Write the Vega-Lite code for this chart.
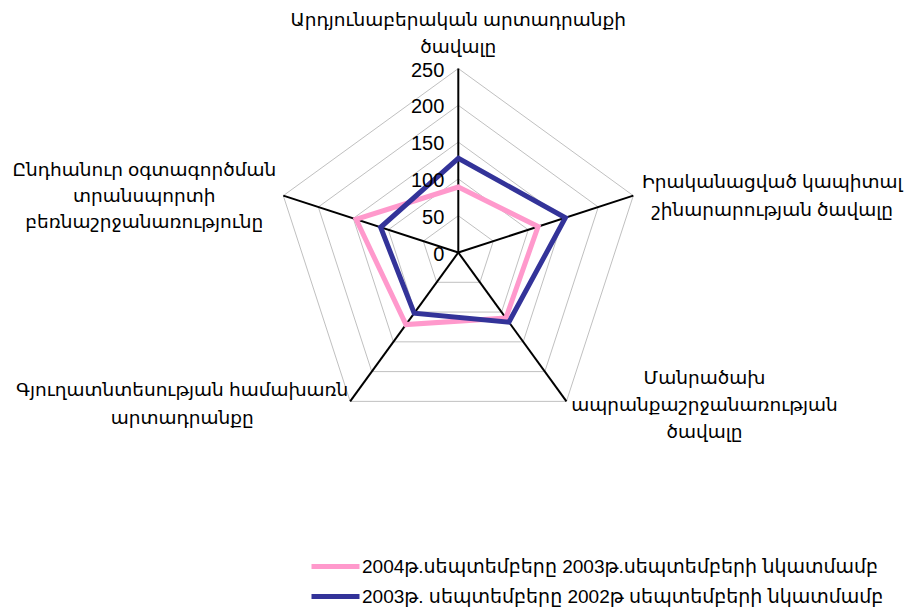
{
  "$schema": "https://vega.github.io/schema/vega-lite/v6.json",
  "width": 906,
  "height": 613,
  "autosize": {"type": "none"},
  "padding": 0,
  "background": "white",
  "config": {
    "view": {"stroke": null},
    "font": "Liberation Sans, DejaVu Sans",
    "text": {"font": "Liberation Sans, DejaVu Sans"}
  },
  "datasets": {
    "series": [
      {"idx": 0, "series": "2004թ.սեպտեմբերը 2003թ.սեպտեմբերի նկատմամբ", "value": 89},
      {"idx": 1, "series": "2004թ.սեպտեմբերը 2003թ.սեպտեմբերի նկատմամբ", "value": 114},
      {"idx": 2, "series": "2004թ.սեպտեմբերը 2003թ.սեպտեմբերի նկատմամբ", "value": 110},
      {"idx": 3, "series": "2004թ.սեպտեմբերը 2003թ.սեպտեմբերի նկատմամբ", "value": 121},
      {"idx": 4, "series": "2004թ.սեպտեմբերը 2003թ.սեպտեմբերի նկատմամբ", "value": 146},
      {"idx": 0, "series": "2003թ. սեպտեմբերը 2002թ սեպտեմբերի նկատմամբ", "value": 128},
      {"idx": 1, "series": "2003թ. սեպտեմբերը 2002թ սեպտեմբերի նկատմամբ", "value": 153},
      {"idx": 2, "series": "2003թ. սեպտեմբերը 2002թ սեպտեմբերի նկատմամբ", "value": 117},
      {"idx": 3, "series": "2003թ. սեպտեմբերը 2002թ սեպտեմբերի նկատմամբ", "value": 102},
      {"idx": 4, "series": "2003թ. սեպտեմբերը 2002թ սեպտեմբերի նկատմամբ", "value": 111}
    ],
    "axes": [
      {"idx": 0, "label": "Արդյունաբերական արտադրանքի\nծավալը"},
      {"idx": 1, "label": "Իրականացված կապիտալ\nշինարարության ծավալը"},
      {"idx": 2, "label": "Մանրածախ\nապրանքաշրջանառության\nծավալը"},
      {"idx": 3, "label": "Գյուղատնտեսության համախառն\nարտադրանքը"},
      {"idx": 4, "label": "Ընդհանուր օգտագործման\nտրանսպորտի\nբեռնաշրջանառությունը"}
    ],
    "grid": [
      {"level": 50, "idx": 0}, {"level": 50, "idx": 1}, {"level": 50, "idx": 2}, {"level": 50, "idx": 3}, {"level": 50, "idx": 4},
      {"level": 100, "idx": 0}, {"level": 100, "idx": 1}, {"level": 100, "idx": 2}, {"level": 100, "idx": 3}, {"level": 100, "idx": 4},
      {"level": 150, "idx": 0}, {"level": 150, "idx": 1}, {"level": 150, "idx": 2}, {"level": 150, "idx": 3}, {"level": 150, "idx": 4},
      {"level": 200, "idx": 0}, {"level": 200, "idx": 1}, {"level": 200, "idx": 2}, {"level": 200, "idx": 3}, {"level": 200, "idx": 4},
      {"level": 250, "idx": 0}, {"level": 250, "idx": 1}, {"level": 250, "idx": 2}, {"level": 250, "idx": 3}, {"level": 250, "idx": 4}
    ],
    "ticks": [
      {"level": 0}, {"level": 50}, {"level": 100}, {"level": 150}, {"level": 200}, {"level": 250}
    ]
  },
  "layer": [
    {
      "data": {"name": "grid"},
      "transform": [
        {"calculate": "datum.idx * 2 * PI / 5", "as": "theta"},
        {"calculate": "datum.level * sin(datum.theta)", "as": "x"},
        {"calculate": "datum.level * cos(datum.theta)", "as": "y"}
      ],
      "mark": {"type": "line", "interpolate": "linear-closed", "stroke": "#C0C0C0", "strokeWidth": 1},
      "encoding": {
        "x": {"field": "x", "type": "quantitative", "scale": {"domain": [-622.7, 608.3], "nice": false, "zero": false}, "axis": null},
        "y": {"field": "y", "type": "quantitative", "scale": {"domain": [-489.8, 343.1], "nice": false, "zero": false}, "axis": null},
        "detail": {"field": "level", "type": "nominal"},
        "order": {"field": "idx", "type": "quantitative"}
      }
    },
    {
      "data": {"name": "axes"},
      "transform": [
        {"calculate": "datum.idx * 2 * PI / 5", "as": "theta"},
        {"calculate": "250 * sin(datum.theta)", "as": "x"},
        {"calculate": "250 * cos(datum.theta)", "as": "y"}
      ],
      "mark": {"type": "rule", "color": "black", "strokeWidth": 2},
      "encoding": {
        "x": {"field": "x", "type": "quantitative"},
        "y": {"field": "y", "type": "quantitative"},
        "x2": {"datum": 0},
        "y2": {"datum": 0}
      }
    },
    {
      "data": {"name": "series"},
      "transform": [
        {"calculate": "datum.idx * 2 * PI / 5", "as": "theta"},
        {"calculate": "datum.value * sin(datum.theta)", "as": "x"},
        {"calculate": "datum.value * cos(datum.theta)", "as": "y"}
      ],
      "mark": {"type": "line", "interpolate": "linear-closed", "strokeWidth": 5},
      "encoding": {
        "x": {"field": "x", "type": "quantitative"},
        "y": {"field": "y", "type": "quantitative"},
        "order": {"field": "idx", "type": "quantitative"},
        "color": {
          "field": "series",
          "type": "nominal",
          "scale": {
            "domain": ["2004թ.սեպտեմբերը 2003թ.սեպտեմբերի նկատմամբ", "2003թ. սեպտեմբերը 2002թ սեպտեմբերի նկատմամբ"],
            "range": ["#FF99CC", "#333399"]
          },
          "legend": {
            "title": null,
            "orient": "none",
            "legendX": 321,
            "legendY": 552,
            "padding": 0,
            "symbolType": "M-2,0L2,0",
            "symbolSize": 576,
            "symbolStrokeWidth": 5,
            "labelFontSize": 19,
            "labelFont": "Liberation Sans, DejaVu Sans",
            "labelColor": "black",
            "labelOffset": 12,
            "labelLimit": 0,
            "rowPadding": 5
          }
        }
      }
    },
    {
      "data": {"name": "ticks"},
      "mark": {"type": "text", "align": "right", "baseline": "middle", "dx": -14, "dy": 2, "fontSize": 20, "color": "black"},
      "encoding": {
        "x": {"datum": 0, "type": "quantitative"},
        "y": {"field": "level", "type": "quantitative"},
        "text": {"field": "level", "type": "quantitative"}
      }
    },
    {
      "data": {"name": "axes"},
      "transform": [
        {"filter": "datum.idx == 0"},
        {"calculate": "datum.idx * 2 * PI / 5", "as": "theta"},
        {"calculate": "250 * sin(datum.theta)", "as": "x"},
        {"calculate": "250 * cos(datum.theta)", "as": "y"}
      ],
      "mark": {"type": "text", "align": "center", "baseline": "alphabetic", "lineBreak": "\n", "lineHeight": 27, "fontSize": 18.5, "dx": 0, "dy": -43, "color": "black"},
      "encoding": {"x": {"field": "x", "type": "quantitative"}, "y": {"field": "y", "type": "quantitative"}, "text": {"field": "label"}}
    },
    {
      "data": {"name": "axes"},
      "transform": [
        {"filter": "datum.idx == 1"},
        {"calculate": "datum.idx * 2 * PI / 5", "as": "theta"},
        {"calculate": "250 * sin(datum.theta)", "as": "x"},
        {"calculate": "250 * cos(datum.theta)", "as": "y"}
      ],
      "mark": {"type": "text", "align": "center", "baseline": "alphabetic", "lineBreak": "\n", "lineHeight": 28, "fontSize": 18.5, "dx": 139, "dy": -8, "color": "black"},
      "encoding": {"x": {"field": "x", "type": "quantitative"}, "y": {"field": "y", "type": "quantitative"}, "text": {"field": "label"}}
    },
    {
      "data": {"name": "axes"},
      "transform": [
        {"filter": "datum.idx == 2"},
        {"calculate": "datum.idx * 2 * PI / 5", "as": "theta"},
        {"calculate": "250 * sin(datum.theta)", "as": "x"},
        {"calculate": "250 * cos(datum.theta)", "as": "y"}
      ],
      "mark": {"type": "text", "align": "center", "baseline": "alphabetic", "lineBreak": "\n", "lineHeight": 27, "fontSize": 18.5, "dx": 138, "dy": -17, "color": "black"},
      "encoding": {"x": {"field": "x", "type": "quantitative"}, "y": {"field": "y", "type": "quantitative"}, "text": {"field": "label"}}
    },
    {
      "data": {"name": "axes"},
      "transform": [
        {"filter": "datum.idx == 3"},
        {"calculate": "datum.idx * 2 * PI / 5", "as": "theta"},
        {"calculate": "250 * sin(datum.theta)", "as": "x"},
        {"calculate": "250 * cos(datum.theta)", "as": "y"}
      ],
      "mark": {"type": "text", "align": "center", "baseline": "alphabetic", "lineBreak": "\n", "lineHeight": 28, "fontSize": 18.5, "dx": -168, "dy": -5, "color": "black"},
      "encoding": {"x": {"field": "x", "type": "quantitative"}, "y": {"field": "y", "type": "quantitative"}, "text": {"field": "label"}}
    },
    {
      "data": {"name": "axes"},
      "transform": [
        {"filter": "datum.idx == 4"},
        {"calculate": "datum.idx * 2 * PI / 5", "as": "theta"},
        {"calculate": "250 * sin(datum.theta)", "as": "x"},
        {"calculate": "250 * cos(datum.theta)", "as": "y"}
      ],
      "mark": {"type": "text", "align": "center", "baseline": "alphabetic", "lineBreak": "\n", "lineHeight": 26, "fontSize": 18.5, "dx": -139, "dy": -20, "color": "black"},
      "encoding": {"x": {"field": "x", "type": "quantitative"}, "y": {"field": "y", "type": "quantitative"}, "text": {"field": "label"}}
    }
  ]
}
